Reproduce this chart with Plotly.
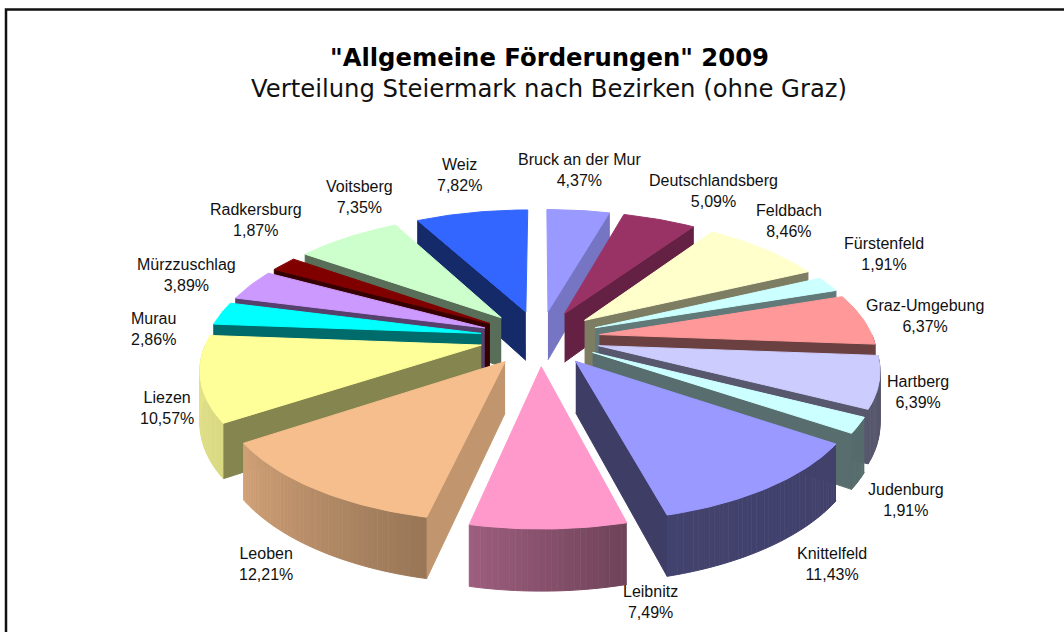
import numpy as np
import plotly.graph_objects as go

districts = ["Bruck an der Mur", "Deutschlandsberg", "Feldbach", "Fürstenfeld", "Graz-Umgebung",
             "Hartberg", "Judenburg", "Knittelfeld", "Leibnitz", "Leoben", "Liezen", "Murau",
             "Mürzzuschlag", "Radkersburg", "Voitsberg", "Weiz"]
shares = [4.37, 5.09, 8.46, 1.91, 6.37, 6.39, 1.91, 11.43, 7.49, 12.21, 10.57, 2.86, 3.89, 1.87, 7.35, 7.82]
slice_colors = ["#9999FF", "#993366", "#FFFFCC", "#CCFFFF", "#FF9999", "#CCCCFF", "#CCFFFF", "#9999FF",
                "#FF99CC", "#F6BE8C", "#FFFF99", "#00FFFF", "#CC99FF", "#800000", "#CCFFCC", "#3366FF"]
label_centers = [(579, 170), (713, 191), (789, 221), (884, 254), (925, 316), (918, 392), (906, 500), (832, 564),
                 (650, 602), (266, 564), (167, 408), (153, 329), (186, 275), (256, 220), (359, 197), (459, 175)]

CX, CY, RX, KY, P, EXPL, H0 = 540, 338, 273.5, 126, 0.16, 0.22, 50


def project(x, y):
    s = 1 / (1 + P * y)
    return CX + RX * x * s, CY - KY * y * s, H0 * s


def shade(hex_color, f):
    r, g, b = (int(hex_color[i:i + 2], 16) for i in (1, 3, 5))
    return f"rgb({r * f:.0f},{g * f:.0f},{b * f:.0f})"


def poly(fig, xs, ys, color):
    fig.add_trace(go.Scatter(x=list(xs), y=list(ys), mode="lines", fill="toself", fillcolor=color,
                             line=dict(color=color, width=1), hoverinfo="skip", showlegend=False))


def wall_shade(n):
    return float(np.interp(n % 360, [0, 100, 125, 150, 185, 215, 250, 360], [.8, .8, .65, .5, .42, .43, .4, .4]))


def rim_shade(t):
    return float(np.interp(t % 360, [0, 100, 165, 193, 236, 274, 360], [.6, .42, .43, .62, .85, .9, .9]))


fig = go.Figure()
edges = np.cumsum([0] + shares) / sum(shares) * 360
order = sorted(range(len(shares)), key=lambda i: -np.cos(np.radians((edges[i] + edges[i + 1]) / 2)))
for i in order:
    a0, a1 = edges[i], edges[i + 1]
    m = np.radians((a0 + a1) / 2)
    ox, oy = EXPL * np.sin(m), EXPL * np.cos(m)
    th = np.radians(np.linspace(a0, a1, max(3, int(a1 - a0) + 2)))
    px, py, ph = project(ox + np.sin(th), oy + np.cos(th))
    ax, ay, ah = project(ox, oy)
    c = slice_colors[i]
    # radial walls that face the viewer
    for k, n in ((0, a0 - 90), (-1, a1 + 90)):
        if np.cos(np.radians(n)) < 0:
            poly(fig, [ax, px[k], px[k], ax], [ay, py[k], py[k] + ph[k], ay + ah], shade(c, wall_shade(n)))
    # outer rim segments that face the viewer
    for j in range(len(th) - 1):
        tm = (th[j] + th[j + 1]) / 2
        if np.cos(tm) < 0:
            poly(fig, [px[j], px[j + 1], px[j + 1], px[j]],
                 [py[j], py[j + 1], py[j + 1] + ph[j + 1], py[j] + ph[j]], shade(c, rim_shade(np.degrees(tm))))
    # top face
    poly(fig, [ax, *px, ax], [ay, *py, ay], c)

annotations = [dict(x=x, y=y, text=f"{n}<br>{v:.2f}%".replace(".", ","), showarrow=False, xref="x", yref="y",
                    font=dict(family="Liberation Sans", size=16, color="#111111"))
               for n, v, (x, y) in zip(districts, shares, label_centers)]
annotations += [
    dict(x=549, y=57, text='<b>"Allgemeine Förderungen" 2009</b>', showarrow=False, xref="x", yref="y",
         font=dict(family="DejaVu Sans", size=24.3, color="#000000")),
    dict(x=549, y=88, text="Verteilung Steiermark nach Bezirken (ohne Graz)", showarrow=False, xref="x", yref="y",
         font=dict(family="DejaVu Sans", size=24.3, color="#111111")),
]
fig.update_layout(
    width=1064, height=632, margin=dict(l=0, r=0, t=0, b=0), paper_bgcolor="white", plot_bgcolor="white",
    showlegend=False, annotations=annotations,
    xaxis=dict(range=[0, 1064], visible=False, fixedrange=True),
    yaxis=dict(range=[632, 0], visible=False, fixedrange=True),
    shapes=[dict(type="rect", x0=6, y0=9.5, x1=1080, y1=660, line=dict(color="#111111", width=2.5), layer="below")],
)
fig.write_html("out.html", config=dict(displayModeBar=False),
               post_script="document.body.style.margin='0';document.body.style.overflow='hidden';")
